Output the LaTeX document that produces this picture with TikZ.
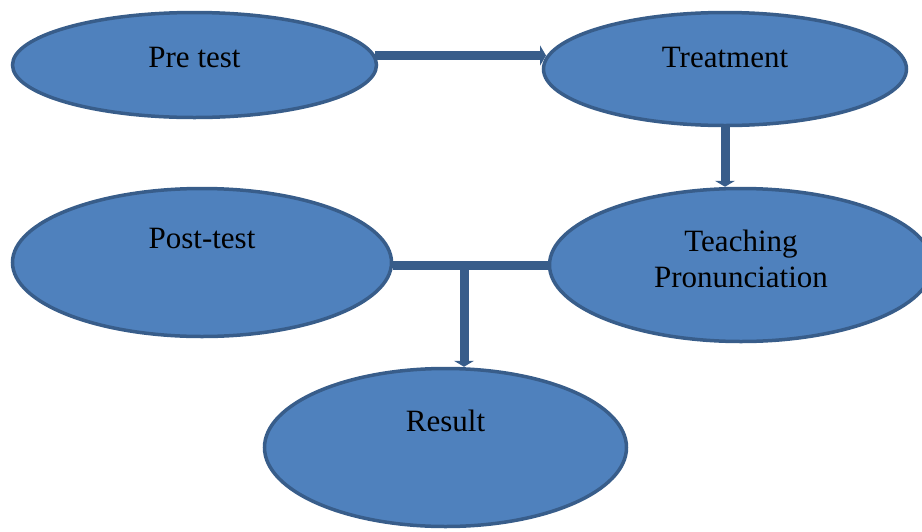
\documentclass[tikz,border=0pt]{standalone}
\usepackage{fontspec}
\setmainfont{Liberation Serif}
\usetikzlibrary{shapes.geometric,arrows.meta}
\definecolor{stagefill}{HTML}{4F81BD}
\definecolor{stageline}{HTML}{385D8A}

\begin{document}
\begin{tikzpicture}[
  x=1pt, y=-1pt,
  stage/.style={ellipse, draw=stageline, fill=stagefill, line width=3.5pt, inner sep=0pt},
  txt/.style={font=\fontsize{31}{35.5}\selectfont, align=center, inner sep=0pt},
  flow/.style={draw=stageline, line width=9pt, -{Triangle[width=20pt,length=6pt]}},
  link/.style={draw=stageline, line width=9pt}
]
\useasboundingbox (0,0) rectangle (922,531);

% =======================
% Stages
% =======================
\node[stage, minimum width=364pt, minimum height=105pt,
  label={[txt, yshift=8pt]center:Pre test}] (pre) at (194.5,65) {};
\node[stage, minimum width=363pt, minimum height=113pt,
  label={[txt, yshift=12pt]center:Treatment}] (treat) at (725,69) {};

\node[stage, minimum width=379pt, minimum height=148pt,
  label={[txt, yshift=24pt]center:Post-test}] (post) at (202,262.5) {};
\node[stage, minimum width=383pt, minimum height=153pt,
  label={[txt, yshift=6pt]center:Teaching\\Pronunciation}] (teach) at (741,265) {};

\node[stage, minimum width=362pt, minimum height=158pt,
  label={[txt, yshift=27pt]center:Result}] (result) at (445.5,447.5) {};

% =======================
% Connectors
% =======================
\draw[flow] (pre.3) -- (pre.3 -| treat.176);
\draw[flow] (treat.south) -- (treat.south |- teach.north);

% Post-test and teaching join, then down to the result
\coordinate (split) at (464,265);
\draw[link] (post.east |- teach.west) -- (teach.west);
\draw[flow] (split) -- (split |- result.north);

\end{tikzpicture}
\end{document}
